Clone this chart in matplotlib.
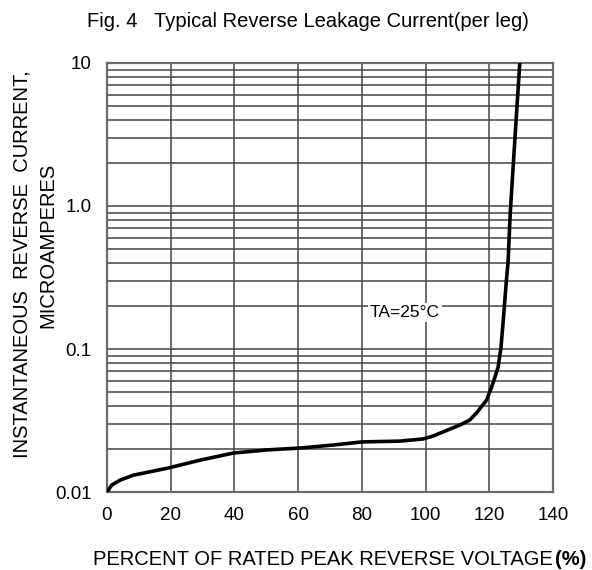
import matplotlib
matplotlib.use("Agg")
import matplotlib.pyplot as plt
from matplotlib.ticker import LogLocator, FixedLocator, NullFormatter

plt.rcParams['font.family'] = ['Liberation Sans', 'DejaVu Sans']

# percent of rated peak reverse voltage vs reverse current (uA)
pct = [0, 1.5, 4.1, 8.2, 19.1, 29.2, 39.5, 50.2, 60.6, 70.9, 80.0, 92.0, 99.2,
       102.3, 110.8, 113.9, 116.0, 119.2, 121.2, 122.8, 123.7, 124.6, 125.4,
       125.9, 126.6, 127.5, 128.5, 129.6]
current = [0.01, 0.0112, 0.0121, 0.0131, 0.0147, 0.0167, 0.0187, 0.0197, 0.0203,
           0.0213, 0.0224, 0.0227, 0.0235, 0.0246, 0.0294, 0.0319, 0.0357, 0.044,
           0.0578, 0.0748, 0.103, 0.179, 0.304, 0.40, 0.893, 1.87, 4.19, 10.0]

xticks = [0, 20, 40, 60, 80, 100, 120, 140]
yticks = [0.01, 0.1, 1.0, 10]
ylabels = ['0.01', '0.1', '1.0', '10']

fig = plt.figure(figsize=(5.92, 5.70), dpi=100)
ax = fig.add_axes([0.1807, 0.1368, 0.7533, 0.7527])

grid_col = '#454545'
ax.set_xlim(0, 140)
ax.set_yscale('log')
ax.set_ylim(0.01, 10)
ax.xaxis.set_major_locator(FixedLocator(xticks))
ax.yaxis.set_major_locator(FixedLocator(yticks))
ax.yaxis.set_minor_locator(LogLocator(base=10, subs=range(2, 10)))
ax.yaxis.set_minor_formatter(NullFormatter())
ax.set_xticklabels([str(t) for t in xticks])
ax.set_yticklabels(ylabels)
ax.grid(True, which='major', color=grid_col, lw=1.1)
ax.grid(True, which='minor', axis='y', color=grid_col, lw=1.1)
ax.tick_params(which='both', length=0, labelsize=13.5, pad=11)
for s in ax.spines.values():
    s.set_color('#6a6a6a')
    s.set_linewidth(1.6)

ax.plot(pct, current, color='black', lw=2.6, solid_capstyle='round',
        solid_joinstyle='round', zorder=3)

ax.text(93.5, 0.179, 'TA=25°C', fontsize=12.5, ha='center', va='center',
        bbox=dict(facecolor='white', edgecolor='none', pad=1.5), zorder=4)

fig.text(0.52, 0.963, 'Fig. 4   Typical Reverse Leakage Current(per leg)',
         fontsize=14.5, ha='center', va='center')
fig.text(0.934, 0.019, 'PERCENT OF RATED PEAK REVERSE VOLTAGE', fontsize=14.5,
         ha='right', va='center')
fig.text(0.938, 0.019, '(%)', fontsize=14.5, fontweight='bold', ha='left', va='center')
fig.text(0.037, 0.536, 'INSTANTANEOUS  REVERSE  CURRENT,', fontsize=14.5,
         rotation=90, ha='center', va='center')
fig.text(0.081, 0.57, 'MICROAMPERES', fontsize=14.5, rotation=90,
         ha='center', va='center')

fig.savefig('out.png', dpi=100)
